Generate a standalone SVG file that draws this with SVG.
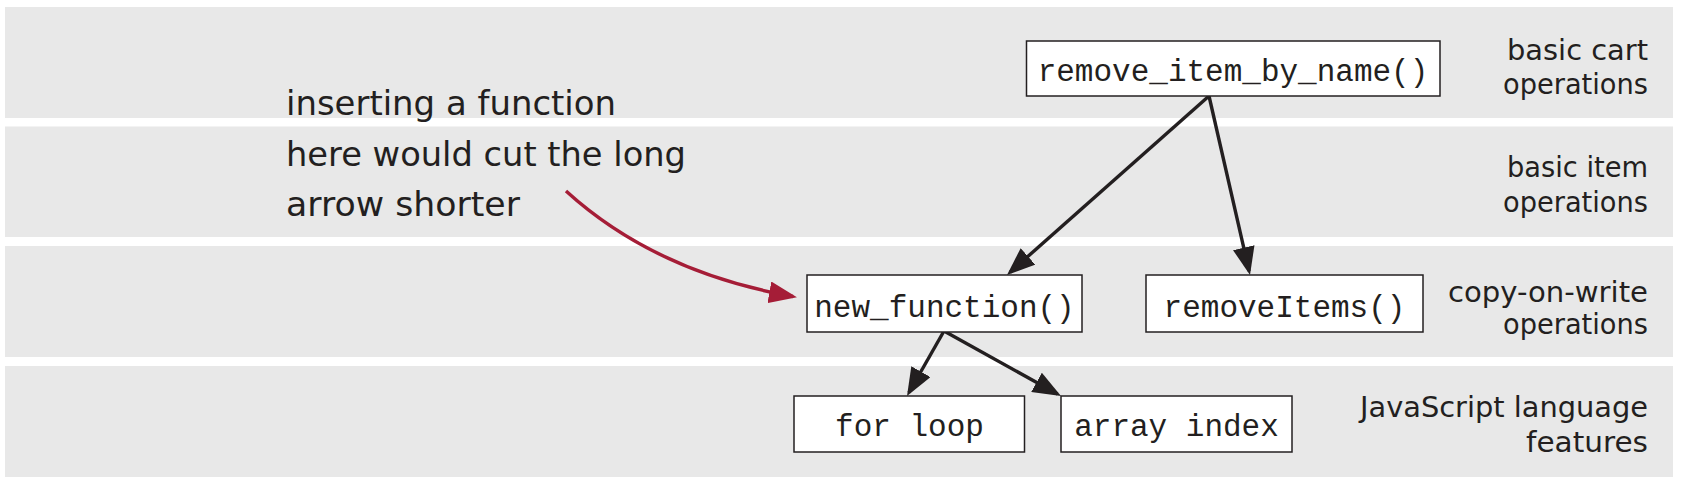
<svg xmlns="http://www.w3.org/2000/svg" width="1681" height="486" viewBox="0 0 1681 486">
<style>
.band{fill:#e8e8e8}
.box{fill:#ffffff;stroke:#231f20;stroke-width:1.5}
.code{font-family:"Liberation Mono","DejaVu Sans Mono",monospace;font-size:31px;fill:#231f20;text-anchor:middle}
.hand{font-family:"DejaVu Sans","Noto Sans",sans-serif;fill:#231f20}
.lbl{font-size:28px;text-anchor:end}
.note{font-size:33px}
.conn{stroke:#231f20;stroke-width:3.4;fill:none}
.red{stroke:#a51d37;stroke-width:3.4;fill:none}
</style>
<defs>
<marker id="ah" viewBox="0 0 28 22" refX="24" refY="11" markerWidth="28" markerHeight="22" markerUnits="userSpaceOnUse" orient="auto">
<path d="M0,0 L28,11 L0,22 z" fill="#231f20"/>
</marker>
<marker id="ahr" viewBox="0 0 28 22" refX="24" refY="11" markerWidth="28" markerHeight="22" markerUnits="userSpaceOnUse" orient="auto">
<path d="M0,0 L28,11 L0,22 z" fill="#a51d37"/>
</marker>
</defs>
<rect width="1681" height="486" fill="#ffffff"/>
<g id="bands">
<rect class="band" x="5" y="7" width="1668" height="111"/>
<rect class="band" x="5" y="126.5" width="1668" height="110.5"/>
<rect class="band" x="5" y="246" width="1668" height="111"/>
<rect class="band" x="5" y="366" width="1668" height="111"/>
</g>
<g id="layer-labels" class="hand lbl">
<text x="1648" y="60" textLength="141" lengthAdjust="spacingAndGlyphs">basic cart</text>
<text x="1648" y="94" textLength="145" lengthAdjust="spacingAndGlyphs">operations</text>
<text x="1648" y="177" textLength="141" lengthAdjust="spacingAndGlyphs">basic item</text>
<text x="1648" y="212" textLength="145" lengthAdjust="spacingAndGlyphs">operations</text>
<text x="1648" y="302" textLength="200" lengthAdjust="spacingAndGlyphs">copy-on-write</text>
<text x="1648" y="334" textLength="145" lengthAdjust="spacingAndGlyphs">operations</text>
<text x="1648" y="417" textLength="288" lengthAdjust="spacingAndGlyphs">JavaScript language</text>
<text x="1648" y="452" textLength="122" lengthAdjust="spacingAndGlyphs">features</text>
</g>
<g id="annotation" class="hand note">
<text x="286" y="115" textLength="330" lengthAdjust="spacingAndGlyphs">inserting a function</text>
<text x="286" y="166" textLength="400" lengthAdjust="spacingAndGlyphs">here would cut the long</text>
<text x="286" y="216" textLength="234" lengthAdjust="spacingAndGlyphs">arrow shorter</text>
</g>
<g id="connectors">
<line class="conn" x1="1209" y1="96" x2="1010" y2="272.3" marker-end="url(#ah)"/>
<line class="conn" x1="1209" y1="96" x2="1249.1" y2="271.1" marker-end="url(#ah)"/>
<line class="conn" x1="944" y1="331" x2="909" y2="392.5" marker-end="url(#ah)"/>
<line class="conn" x1="944" y1="331" x2="1057.5" y2="394" marker-end="url(#ah)"/>
<path class="red" d="M566,191 Q655,272 793,296.5" marker-end="url(#ahr)"/>
</g>
<g id="node-remove_item_by_name">
<rect class="box" x="1026.5" y="41" width="413.5" height="55"/>
<text class="code" x="1233" y="81">remove_item_by_name()</text>
</g>
<g id="node-new_function">
<rect class="box" x="807" y="275" width="275" height="57"/>
<text class="code" x="944.5" y="317">new_function()</text>
</g>
<g id="node-removeItems">
<rect class="box" x="1146" y="275" width="277" height="57"/>
<text class="code" x="1284.5" y="317">removeItems()</text>
</g>
<g id="node-for_loop">
<rect class="box" x="794" y="396" width="230.5" height="56"/>
<text class="code" x="909.5" y="436">for loop</text>
</g>
<g id="node-array_index">
<rect class="box" x="1061" y="396" width="231" height="56"/>
<text class="code" x="1176.5" y="436">array index</text>
</g>
</svg>
